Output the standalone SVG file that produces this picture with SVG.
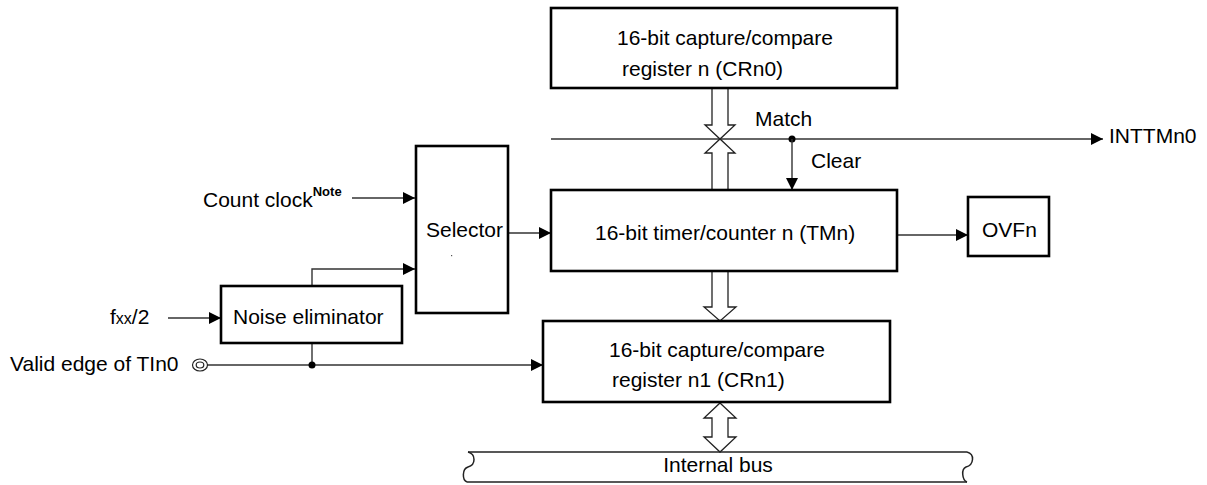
<svg xmlns="http://www.w3.org/2000/svg" width="1207" height="485" viewBox="0 0 1207 485">
<style>
text{font-family:"Liberation Sans",Arial,sans-serif;font-size:21px;fill:#000}
.box{fill:#fff;stroke:#000;stroke-width:2.6}
.ln{fill:none;stroke:#333;stroke-width:1.4}
.hol{fill:#fff;stroke:#222;stroke-width:1.3}
.bus{fill:none;stroke:#222;stroke-width:1.5}
</style>
<defs>
<marker id="ah" markerUnits="userSpaceOnUse" markerWidth="13" markerHeight="12" refX="12" refY="6" orient="auto">
<path d="M0,0 L12,6 L0,12 z" fill="#000"/>
</marker>
</defs>
<rect width="1207" height="485" fill="#fff"/>

<g id="connectors">
<!-- Match line to INTTMn0 -->
<line class="ln" x1="551" y1="139" x2="1103" y2="139" marker-end="url(#ah)"/>
<circle cx="792" cy="139" r="3.5" fill="#000"/>
<!-- Clear -->
<line class="ln" x1="792" y1="139" x2="792" y2="190" marker-end="url(#ah)"/>
<!-- Count clock -->
<line class="ln" x1="352" y1="198" x2="415" y2="198" marker-end="url(#ah)"/>
<!-- Noise to selector -->
<polyline class="ln" points="312,286 312,269 415,269" marker-end="url(#ah)"/>
<!-- Selector to TMn -->
<line class="ln" x1="508" y1="233" x2="551" y2="233" marker-end="url(#ah)"/>
<!-- TMn to OVFn -->
<line class="ln" x1="897" y1="235" x2="968" y2="235" marker-end="url(#ah)"/>
<!-- fxx/2 -->
<line class="ln" x1="168" y1="318" x2="221" y2="318" marker-end="url(#ah)"/>
<!-- Valid edge -->
<line class="ln" x1="207" y1="365" x2="543" y2="365" marker-end="url(#ah)"/>
<line class="ln" x1="312" y1="343" x2="312" y2="365"/>
<circle cx="312" cy="365" r="3.5" fill="#000"/>
<!-- hollow bus arrows -->
<path class="hol" d="M712,89 L712,125 L705,125 L720,139 L735,125 L728,125 L728,89"/>
<path class="hol" d="M712,189 L712,153 L705,153 L720,139 L735,153 L728,153 L728,189"/>
<path class="hol" d="M712,272 L712,307 L704,307 L720,321 L736,307 L728,307 L728,272"/>
<path class="hol" d="M720,403 L736,418 L728,418 L728,437 L736,437 L720,452 L704,437 L712,437 L712,418 L704,418 Z"/>
</g>

<g id="cr0">
<rect class="box" x="551" y="8" width="346" height="80"/>
<text x="617" y="45">16-bit capture/compare</text>
<text x="622" y="76">register n (CRn0)</text>
</g>

<g id="labels">
<text x="755" y="126">Match</text>
<text x="811" y="168">Clear</text>
<text x="1109" y="143">INTTMn0</text>
<text x="203" y="207">Count clock<tspan font-size="13" font-weight="bold" dy="-11">Note</tspan></text>
<text x="110" y="324">f<tspan font-size="16">xx</tspan>/2</text>
<text x="10" y="371">Valid edge of TIn0</text>
<ellipse cx="200" cy="365" rx="7.5" ry="6" fill="#fff" stroke="#222" stroke-width="1.2"/>
<ellipse cx="200" cy="365" rx="3.8" ry="3" fill="none" stroke="#222" stroke-width="1.2"/>
</g>

<g id="selector">
<rect class="box" x="416" y="146" width="92" height="167"/>
<text x="426" y="237">Selector</text>
<rect x="451" y="255" width="1.2" height="1.2" fill="#555"/>
</g>

<g id="tmn">
<rect class="box" x="551" y="190" width="346" height="81"/>
<text x="595" y="240">16-bit timer/counter n (TMn)</text>
</g>

<g id="ovfn">
<rect class="box" x="968" y="197" width="81" height="59"/>
<text x="982" y="237">OVFn</text>
</g>

<g id="noise">
<rect class="box" x="221" y="286" width="181" height="57"/>
<text x="233" y="324">Noise eliminator</text>
</g>

<g id="cr1">
<rect class="box" x="543" y="321" width="347" height="81"/>
<text x="609" y="357">16-bit capture/compare</text>
<text x="612" y="387">register n1 (CRn1)</text>
</g>

<g id="bus">
<path class="bus" d="M468,452 L967,452 M467,482 L967,482"/>
<path class="bus" d="M468,452 C476,454 476,465 468,467 C462,469 462,480 467,482"/>
<path class="bus" d="M967,452 C975,454 974,465 966,467 C961,469 962,480 967,482"/>
<text x="718" y="472" text-anchor="middle">Internal bus</text>
</g>
</svg>
